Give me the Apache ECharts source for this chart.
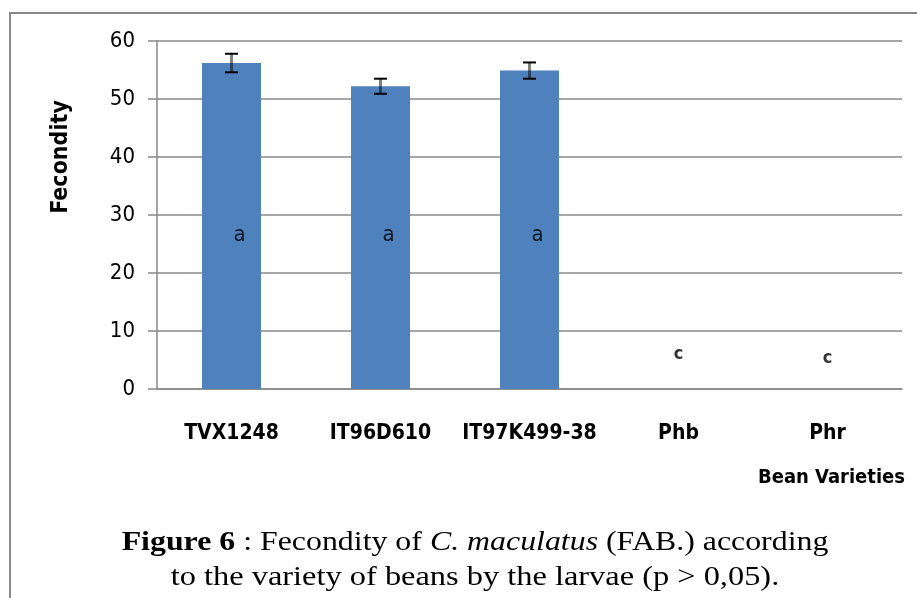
<!DOCTYPE html>
<html>
<head>
<meta charset="utf-8">
<script src="https://cdn.jsdelivr.net/npm/echarts@6/dist/echarts.min.js"></script>
<style>
  html, body { margin: 0; padding: 0; background: #fff; }
  #chart { width: 917px; height: 598px; }
</style>
</head>
<body>
<div id="chart"></div>
<script>
// data
var varieties = ["TVX1248", "IT96D610", "IT97K499-38", "Phb", "Phr"];
var fecondity = [56.2, 52.2, 54.9, 0, 0];
var errors = [1.6, 1.3, 1.4, 0, 0];
var letters = ["a", "a", "a", "c", "c"];
var letterAt = [26.5, 26.5, 26.5, 6, 5.3];
var yTicks = [0, 10, 20, 30, 40, 50, 60];

var gray = "#888888";
var sans = "'DejaVu Sans Condensed', 'DejaVu Sans'";

var myChart = echarts.init(document.getElementById("chart"));

myChart.setOption({
  backgroundColor: "#fff",
  animation: false,
  grid: {
    left: 157,
    right: 15,
    top: 41,
    bottom: 209
  },
  xAxis: {
    type: "category",
    data: varieties,
    axisLine: { lineStyle: { color: gray, width: 1.5 } },
    axisTick: {
      alignWithLabel: true,
      inside: true,
      length: 7,
      lineStyle: { color: gray, width: 1 }
    },
    axisLabel: {
      interval: 0,
      margin: 34,
      color: "#000",
      fontFamily: sans,
      fontWeight: "bold",
      fontSize: 21
    }
  },
  yAxis: {
    type: "value",
    min: yTicks[0],
    max: yTicks[yTicks.length - 1],
    interval: 10,
    axisLine: { show: true, lineStyle: { color: gray, width: 1.5 } },
    axisTick: { show: true, length: 9, lineStyle: { color: gray, width: 1.5 } },
    axisLabel: {
      margin: 22,
      color: "#000",
      fontFamily: sans,
      fontSize: 22
    },
    splitLine: { lineStyle: { color: gray, width: 1.5 } }
  },
  series: [
    {
      type: "bar",
      data: fecondity,
      barWidth: 59,
      itemStyle: { color: "#4F81BD" }
    },
    {
      // error bars
      type: "custom",
      data: fecondity.map(function (v, i) {
        return [i, v - errors[i], v + errors[i]];
      }),
      renderItem: function (params, api) {
        if (api.value(2) === api.value(1)) return;
        var lo = api.coord([api.value(0), api.value(1)]);
        var hi = api.coord([api.value(0), api.value(2)]);
        var half = 6.5;
        return {
          type: "group",
          children: [
            {
              type: "line",
              shape: { x1: hi[0], y1: hi[1], x2: lo[0], y2: lo[1] },
              style: { stroke: "rgba(0,0,0,0.5)", lineWidth: 3 }
            },
            {
              type: "line",
              shape: { x1: hi[0] - half, y1: hi[1], x2: hi[0] + half, y2: hi[1] },
              style: { stroke: "#000", lineWidth: 2 }
            },
            {
              type: "line",
              shape: { x1: lo[0] - half, y1: lo[1], x2: lo[0] + half, y2: lo[1] },
              style: { stroke: "#000", lineWidth: 2 }
            }
          ]
        };
      },
      z: 5
    },
    {
      // significance letters
      type: "scatter",
      symbolSize: 0,
      data: letterAt.map(function (v, i) {
        var isBar = fecondity[i] > 0;
        return {
          value: [i, v],
          label: {
            offset: [isBar ? 8 : 0, 0],
            fontSize: isBar ? 22 : 18,
            fontWeight: isBar ? "normal" : "bold"
          }
        };
      }),
      label: {
        show: true,
        position: "inside",
        color: "#000",
        fontFamily: sans,
        formatter: function (p) {
          return letters[p.dataIndex];
        }
      },
      z: 6
    }
  ],
  graphic: [
    {
      type: "polyline",
      shape: { points: [[10, 598], [10, 13], [917, 13]] },
      style: { stroke: gray, lineWidth: 2, fill: null }
    },
    {
      type: "text",
      x: 61,
      y: 157,
      rotation: Math.PI / 2,
      style: {
        text: "Fecondity",
        fill: "#000",
        fontFamily: sans,
        fontWeight: "bold",
        fontSize: 23,
        align: "center",
        verticalAlign: "middle"
      }
    },
    {
      type: "text",
      x: 905,
      y: 478,
      style: {
        text: "Bean Varieties",
        fill: "#000",
        fontFamily: sans,
        fontWeight: "bold",
        fontSize: 20,
        align: "right",
        verticalAlign: "middle"
      }
    },
    {
      type: "text",
      x: 475,
      y: 543,
      scaleX: 1.18,
      style: {
        text: "{b|Figure 6} : Fecondity of {i|C. maculatus} (FAB.) according",
        fill: "#000",
        fontFamily: "Liberation Serif",
        fontSize: 27,
        align: "center",
        verticalAlign: "middle",
        rich: {
          b: { fontFamily: "Liberation Serif", fontSize: 27, fontWeight: "bold", fill: "#000" },
          i: { fontFamily: "Liberation Serif", fontSize: 27, fontStyle: "italic", fill: "#000" }
        }
      }
    },
    {
      type: "text",
      x: 475,
      y: 578,
      scaleX: 1.2,
      style: {
        text: "to the variety of beans by the larvae (p > 0,05).",
        fill: "#000",
        fontFamily: "Liberation Serif",
        fontSize: 27,
        align: "center",
        verticalAlign: "middle"
      }
    }
  ]
});
</script>
</body>
</html>
